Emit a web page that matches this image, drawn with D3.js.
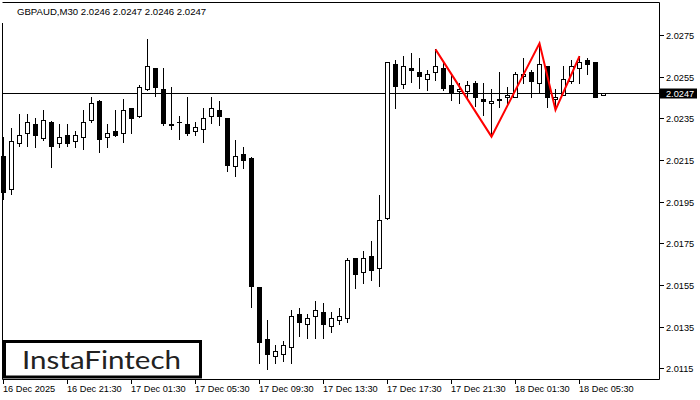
<!DOCTYPE html>
<html>
<head>
<meta charset="utf-8">
<script src="https://cdn.jsdelivr.net/npm/d3@7/dist/d3.min.js"></script>
<style>
html,body{margin:0;padding:0;background:#fff;}
svg{display:block;}
text{font-family:"Liberation Sans",Arial,sans-serif;}
</style>
</head>
<body>
<svg id="chart" width="700" height="400"></svg>
<script>
// ---- data ----
const title = "GBPAUD,M30  2.0246 2.0247 2.0246 2.0247";
const opens  = [2.02169,2.02009,2.02230,2.02278,2.02321,2.02257,2.02331,2.02230,2.02269,2.02240,
                2.02259,2.02341,2.02433,2.02259,2.02289,2.02278,2.02398,2.02360,2.02489,2.02590,
                2.02489,2.02322,2.02330,2.02321,2.02288,2.02300,2.02360,2.02389,2.02350,2.02120,
                2.02177,2.02160,2.01540,2.01291,2.01208,2.01217,2.01251,2.01411,2.01361,2.01400,
                2.01420,2.01352,2.01381,2.01390,2.01678,2.01611,2.01688,2.01630,2.01870,2.02609,
                2.02516,2.02590,2.02571,2.02539,2.02571,2.02590,2.02509,2.02480,2.02480,2.02518,
                2.02441,2.02422,2.02442,2.02451,2.02451,2.02552,2.02571,2.02518,2.02600,2.02442,
                2.02461,2.02528,2.02590,2.02629,2.02619,2.0246];
const highs  = [2.02260,2.02302,2.02371,2.02371,2.02350,2.02390,2.02335,2.02321,2.02321,2.02289,
                2.02390,2.02451,2.02436,2.02321,2.02390,2.02443,2.02400,2.02510,2.02731,2.02592,
                2.02590,2.02499,2.02361,2.02451,2.02331,2.02398,2.02451,2.02433,2.02352,2.02248,
                2.02211,2.02162,2.01542,2.01382,2.01262,2.01281,2.01430,2.01440,2.01411,2.01473,
                2.01464,2.01420,2.01440,2.01678,2.01680,2.01713,2.01761,2.01982,2.02620,2.02629,
                2.02648,2.02662,2.02638,2.02581,2.02681,2.02619,2.02558,2.02518,2.02528,2.02528,
                2.02518,2.02489,2.02571,2.02499,2.02571,2.02638,2.02581,2.02710,2.02602,2.02489,
                2.02600,2.02629,2.02648,2.02638,2.02620,2.0247];
const lows   = [2.01963,2.01987,2.02217,2.02217,2.02211,2.02246,2.02118,2.02211,2.02219,2.02211,
                2.02201,2.02331,2.02190,2.02211,2.02265,2.02238,2.02278,2.02358,2.02487,2.02459,
                2.02319,2.02300,2.02249,2.02269,2.02269,2.02238,2.02329,2.02319,2.02099,2.02071,
                2.02110,2.01446,2.01177,2.01148,2.01177,2.01187,2.01177,2.01307,2.01297,2.01297,
                2.01297,2.01326,2.01361,2.01371,2.01537,2.01558,2.01575,2.01547,2.01868,2.02398,
                2.02497,2.02526,2.02497,2.02487,2.02535,2.02487,2.02439,2.02422,2.02451,2.02411,
                2.02367,2.02262,2.02406,2.02422,2.02450,2.02518,2.02451,2.02470,2.02406,2.02390,
                2.02460,2.02518,2.02518,2.02561,2.02450,2.0246];
const closes = [2.01996,2.02240,2.02269,2.02331,2.02269,2.02341,2.02219,2.02259,2.02230,2.02269,
                2.02331,2.02422,2.02249,2.02278,2.02269,2.02389,2.02350,2.02499,2.02600,2.02499,
                2.02329,2.02320,2.02332,2.02278,2.02310,2.02350,2.02398,2.02360,2.02127,2.02168,
                2.02149,2.01547,2.01278,2.01217,2.01233,2.01262,2.01400,2.01371,2.01392,2.01429,
                2.01361,2.01390,2.01400,2.01669,2.01601,2.01678,2.01621,2.01861,2.02619,2.02507,
                2.02600,2.02581,2.02552,2.02561,2.02600,2.02497,2.02470,2.02489,2.02509,2.02451,
                2.02432,2.02432,2.02440,2.02461,2.02561,2.02561,2.02528,2.02609,2.02451,2.02451,
                2.02537,2.02600,2.02619,2.02609,2.02451,2.0247];
const priceTicks = [2.0115,2.0135,2.0155,2.0175,2.0195,2.0215,2.0235,2.0255,2.0275];
const timeTickIndex = [0,8,16,24,32,40,48,56,64,72];
const timeTickLabels = ["16 Dec 2025","16 Dec 21:30","17 Dec 01:30","17 Dec 05:30","17 Dec 09:30",
                        "17 Dec 13:30","17 Dec 17:30","17 Dec 21:30","18 Dec 01:30","18 Dec 05:30"];
const currentPrice = 2.0247;
// pattern vertices: [bar index, price]
const patternIdx   = [54,61,67,69,72];
const patternPrice = [2.02681,2.02262,2.02710,2.02390,2.02648];
const logoText = "InstaFintech";

// ---- scales ----
const svg = d3.select("#chart");
const x = d3.scaleLinear().domain([0,75]).range([3.5,603.5]);
const y = d3.scaleLinear().domain([2.0115,2.0275]).range([368.3,35]);
const px = v => Math.round(y(v));

const bars = opens.map((o,i)=>({i,o,h:highs[i],l:lows[i],c:closes[i]}));

// frame
const g = svg.append("g");
g.append("line").attr("x1",2.5).attr("x2",659.5).attr("y1",2.5).attr("y2",2.5).attr("stroke","#000");
g.append("line").attr("x1",2.5).attr("x2",2.5).attr("y1",23).attr("y2",379.5).attr("stroke","#000");
g.append("line").attr("x1",659.5).attr("x2",659.5).attr("y1",2.5).attr("y2",379.5).attr("stroke","#000");
g.append("line").attr("x1",2.5).attr("x2",659.5).attr("y1",379.5).attr("y2",379.5).attr("stroke","#000");

// current price line
g.append("line").attr("x1",3).attr("x2",659).attr("y1",px(currentPrice)+0.5).attr("y2",px(currentPrice)+0.5)
 .attr("stroke","#000").attr("stroke-width",1);

// candles
const cg = svg.append("g");
bars.forEach(b=>{
  const cx = x(b.i);
  cg.append("line").attr("x1",cx).attr("x2",cx).attr("y1",px(b.h)).attr("y2",px(b.l)+1)
    .attr("stroke","#000").attr("stroke-width",1);
  const top = px(Math.max(b.o,b.c)), bot = px(Math.min(b.o,b.c));
  if (bot - top < 1) {
    cg.append("line").attr("x1",cx-2.5).attr("x2",cx+2.5).attr("y1",top+0.5).attr("y2",top+0.5)
      .attr("stroke","#000");
  } else {
    const bull = b.c > b.o;
    cg.append("rect").attr("x",cx-2).attr("width",4).attr("y",top+0.5).attr("height",bot-top)
      .attr("fill",bull?"#fff":"#000").attr("stroke","#000").attr("stroke-width",1);
  }
});

// pattern
const pts = patternIdx.map((k,j)=>[x(k), y(patternPrice[j])]);
svg.append("path").attr("d",d3.line()(pts)).attr("fill","none").attr("stroke","#ff0000")
  .attr("stroke-width",2).attr("stroke-linejoin","miter");

// y axis
const ya = svg.append("g");
priceTicks.forEach(v=>{
  const yy = px(v)+0.5;
  ya.append("line").attr("x1",660).attr("x2",664).attr("y1",yy).attr("y2",yy).attr("stroke","#000");
  ya.append("text").attr("x",666).attr("y",yy).attr("dy","0.35em").attr("font-size",9.2).attr("fill","#000")
    .text(d3.format(".4f")(v));
});
// current price label
const cy = px(currentPrice)+0.5;
ya.append("rect").attr("x",660).attr("y",cy-5).attr("width",37).attr("height",10).attr("fill","#000");
ya.append("text").attr("x",666).attr("y",cy).attr("dy","0.35em").attr("font-size",9.2).attr("fill","#fff")
  .text(d3.format(".4f")(currentPrice));

// x axis
const xa = svg.append("g");
timeTickIndex.forEach((k,j)=>{
  const xx = Math.floor(x(k))+0.5;
  xa.append("line").attr("x1",xx).attr("x2",xx).attr("y1",380).attr("y2",384).attr("stroke","#000");
  xa.append("text").attr("x",xx-0.5).attr("y",389).attr("dy","0.35em").attr("font-size",9.2).attr("fill","#000")
    .text(timeTickLabels[j]);
});

// title
svg.append("rect").attr("x",0).attr("y",4).attr("width",230).attr("height",18).attr("fill","#fff");
svg.append("text").attr("x",17).attr("y",15).attr("font-size",9.6).attr("fill","#000").text(title);

// logo
svg.append("rect").attr("x",4.5).attr("y",341.5).attr("width",196).attr("height",35.5)
  .attr("fill","#fff").attr("stroke","#000").attr("stroke-width",3);
svg.append("text").attr("x",22).attr("y",368.5).attr("font-size",25.5)
  .style("font-family","Lato, 'Open Sans', sans-serif").attr("fill","#222")
  .attr("textLength",159).attr("lengthAdjust","spacingAndGlyphs").text(logoText);
</script>
</body>
</html>
